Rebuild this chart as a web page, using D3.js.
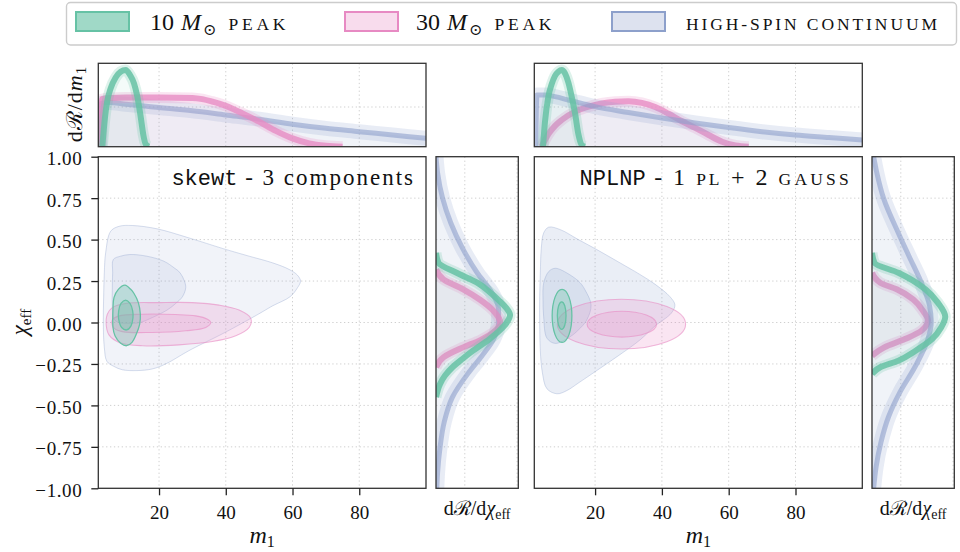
<!DOCTYPE html>
<html>
<head>
<meta charset="utf-8">
<script src="https://cdn.jsdelivr.net/npm/d3@7/dist/d3.min.js"></script>
<style>
html,body{margin:0;padding:0;background:#fff;}
svg{display:block;}
</style>
</head>
<body>
<svg id="chart" width="960" height="552"></svg>
<script>
// ---------------- data ----------------
const legendLabels = ["10 M⊙ PEAK", "30 M⊙ PEAK", "HIGH-SPIN CONTINUUM"];
const popColors = ["#66c2a5", "#e78ac3", "#8da0cb"];
const m1Ticks = [20, 40, 60, 80];
const chiTicks = [-1, -0.75, -0.5, -0.25, 0, 0.25, 0.5, 0.75, 1];
const topGridLevels = [0.476];
const sideGridLevels = [0.35, 0.985];
const m1Domain = [1.8, 100];
const chiDomain = [-1, 1];

// skewt model: 2D contours [m1, chi_eff]
const skewtBlueOuter = [[4.0,0.42],[5.5,0.55],[8,0.58],[12,0.585],[19.4,0.565],[29,0.51],[39.3,0.445],[47,0.40],[54,0.36],[59,0.32],[61.5,0.285],[62.4,0.25],[61.5,0.21],[59.3,0.156],[54,0.10],[49.3,0.045],[39.3,-0.065],[29.3,-0.166],[22,-0.25],[18,-0.28],[13.4,-0.29],[9,-0.285],[6.5,-0.265],[4.4,-0.235],[3.6,-0.15],[3.3,0.0],[3.4,0.15],[3.6,0.30]];
const skewtBlueInner = [[6.3,0.38],[8.5,0.40],[11.3,0.41],[16.3,0.40],[21.4,0.37],[24.5,0.33],[26.3,0.30],[27.6,0.25],[28,0.21],[27,0.155],[25,0.115],[22.4,0.075],[18,0.03],[14.3,0.0],[11,-0.005],[8,0.0],[6.5,0.02],[6.0,0.1],[6.0,0.2],[6.1,0.3]];
const skewtPinkOuter = [[4.5,0.05],[6,0.09],[10,0.115],[20,0.12],[30,0.12],[38,0.105],[44,0.075],[47.5,0.025],[47,-0.03],[43,-0.08],[36,-0.115],[26,-0.135],[15,-0.14],[8,-0.12],[5,-0.075],[4.2,-0.02]];
const skewtPinkInner = [[6,0.015],[8,0.04],[15,0.05],[25,0.048],[31,0.04],[34.5,0.02],[35.5,0.0],[34,-0.03],[28,-0.05],[18,-0.06],[9,-0.055],[6.3,-0.03]];
const skewtGreenOuter = [[9.8,0.225],[11.5,0.20],[12.5,0.175],[13.8,0.12],[14.4,0.05],[14.2,-0.01],[13.2,-0.07],[11.9,-0.12],[10.3,-0.14],[8.5,-0.125],[6.8,-0.08],[6.2,-0.03],[6.2,0.08],[6.5,0.15],[7.8,0.2]];
const skewtGreenInner = [[10,0.135],[11.3,0.115],[12.1,0.07],[12.2,0.03],[11.6,-0.02],[10.3,-0.045],[8.8,-0.03],[7.9,0.02],[7.9,0.07],[8.6,0.115]];

// NPLNP model: 2D contours
const nplnpBlueOuter = [[4.6,0.54],[6.1,0.575],[9.6,0.56],[15,0.5],[20.5,0.44],[27,0.365],[33.4,0.29],[38,0.23],[42.4,0.156],[43.9,0.106],[42.8,0.056],[38,-0.02],[33.4,-0.106],[27,-0.2],[20.5,-0.29],[15,-0.365],[11.6,-0.41],[8.6,-0.43],[5.6,-0.40],[4.2,-0.3],[3.6,-0.17],[3.4,0.0],[3.4,0.14],[3.6,0.30],[3.9,0.45]];
const nplnpBlueInner = [[4.6,0.237],[6.1,0.307],[8.1,0.327],[12.5,0.287],[15.5,0.24],[17,0.196],[18.8,0.106],[17.5,0.015],[15,-0.045],[12.5,-0.086],[8.1,-0.126],[5.6,-0.095],[4.6,0.035],[4.4,0.14]];
// ellipses: [centre m1, centre chi, half-width m1, half-height chi]
const nplnpPinkOuter = [27.9, -0.01, 19.2, 0.15];
const nplnpPinkInner = [28.0, -0.01, 10.4, 0.078];
const nplnpGreenOuter = [10.1, 0.04, 2.95, 0.16];
const nplnpGreenInner = [10.0, 0.042, 1.3, 0.083];

// top marginals dR/dm1 (normalised) [m1, density]
const skewtTopGreen = [[3,0],[3.8,0.35],[4.5,0.55],[5.5,0.7],[7,0.83],[8.5,0.9],[10,0.92],[11.3,0.86],[12.5,0.76],[13.5,0.6],[14.5,0.36],[15.3,0.14],[16,0.03],[17,0]];
const skewtTopPink = [[2.6,0],[2.9,0.57],[5,0.585],[10,0.59],[20,0.59],[30,0.585],[33,0.57],[36,0.54],[40,0.49],[45,0.40],[50,0.30],[55,0.19],[60,0.10],[65,0.04],[70,0.012],[75,0]];
const skewtTopBlue = [[2.2,0],[2.6,0.52],[5,0.53],[10,0.51],[15,0.49],[20,0.47],[30,0.43],[40,0.38],[50,0.33],[60,0.27],[70,0.22],[80,0.18],[90,0.14],[100,0.10]];
const nplnpTopGreen = [[4.4,0],[5,0.3],[6,0.6],[7,0.75],[8,0.85],[9,0.9],[10,0.92],[11,0.88],[12,0.77],[13,0.6],[14,0.4],[15,0.15],[16,0.02],[17,0]];
const nplnpTopPink = [[4,0],[6,0.15],[8,0.25],[10,0.32],[14,0.42],[18,0.48],[22,0.52],[26,0.54],[30,0.545],[34,0.525],[38,0.475],[42,0.395],[46,0.305],[50,0.225],[54,0.14],[58,0.06],[62,0.015],[66,0]];
const nplnpTopBlue = [[2.2,0],[2.6,0.62],[5,0.62],[8,0.6],[12,0.56],[16,0.52],[20,0.48],[30,0.41],[40,0.345],[50,0.285],[60,0.23],[70,0.18],[80,0.14],[90,0.11],[100,0.08]];

// side marginals dR/dchi_eff (normalised) [chi, density]
const skewtSideGreen = [[0.42,0],[0.36,0.03],[0.30,0.25],[0.24,0.5],[0.18,0.66],[0.135,0.76],[0.09,0.85],[0.045,0.9],[0.0,0.86],[-0.045,0.78],[-0.1,0.65],[-0.17,0.45],[-0.22,0.32],[-0.27,0.2],[-0.32,0.11],[-0.37,0.05],[-0.45,0]];
const skewtSidePink = [[0.32,0],[0.26,0.09],[0.2,0.33],[0.136,0.54],[0.07,0.7],[0.0,0.78],[-0.05,0.72],[-0.106,0.54],[-0.15,0.33],[-0.21,0.09],[-0.27,0]];
const skewtSideBlue = [[1.0,0],[0.9,0.02],[0.75,0.08],[0.6,0.18],[0.45,0.32],[0.3,0.5],[0.18,0.68],[0.08,0.76],[0.0,0.76],[-0.1,0.7],[-0.2,0.56],[-0.3,0.4],[-0.45,0.2],[-0.6,0.1],[-0.75,0.05],[-0.9,0.02],[-1.0,0.01]];
const nplnpSideGreen = [[0.42,0],[0.36,0.03],[0.3,0.32],[0.2,0.65],[0.12,0.8],[0.035,0.89],[-0.03,0.84],[-0.1,0.73],[-0.17,0.53],[-0.23,0.32],[-0.27,0.1],[-0.31,0]];
const nplnpSidePink = [[0.3,0],[0.24,0.1],[0.2,0.3],[0.14,0.5],[0.07,0.62],[0.015,0.68],[-0.05,0.6],[-0.1,0.4],[-0.15,0.15],[-0.2,0]];
const nplnpSideBlue = [[1.0,0.02],[0.9,0.06],[0.75,0.14],[0.54,0.32],[0.4,0.45],[0.24,0.6],[0.1,0.7],[0.0,0.72],[-0.1,0.68],[-0.27,0.52],[-0.42,0.34],[-0.57,0.2],[-0.72,0.11],[-0.87,0.05],[-1.0,0.02]];

// ---------------- drawing ----------------
const svg = d3.select("#chart");
const defs = svg.append("defs");
const SERIF = "'Liberation Serif','DejaVu Serif',serif";
const MONO = "'Liberation Mono','DejaVu Sans Mono',monospace";
const GRID = "#cfcfcf";
const FRAME = "#333333";

const layout = [
  {mx:[98.3, 426], sx:[436, 518.3]},
  {mx:[534.3, 862.3], sx:[872, 954.3]}
];
const mainY = [488.3, 156.7];
const topY = [146.7, 63.3];

const panelData = [
  {
    polys: [[skewtBlueOuter,2],[skewtBlueInner,2],[skewtPinkOuter,1],[skewtPinkInner,1],[skewtGreenOuter,0],[skewtGreenInner,0]],
    ellipses: [],
    blueFill: 0.12,
    top: [[skewtTopBlue,2],[skewtTopPink,1],[skewtTopGreen,0]],
    side: [[skewtSideBlue,2],[skewtSidePink,1],[skewtSideGreen,0]]
  },
  {
    polys: [[nplnpBlueOuter,2],[nplnpBlueInner,2]],
    ellipses: [[nplnpPinkOuter,1],[nplnpPinkInner,1],[nplnpGreenOuter,0],[nplnpGreenInner,0]],
    blueFill: 0.18,
    top: [[nplnpTopPink,1],[nplnpTopBlue,2],[nplnpTopGreen,0]],
    side: [[nplnpSidePink,1],[nplnpSideBlue,2],[nplnpSideGreen,0]]
  }
];

const contourFill = [0.32, 0.22, 0.12];
const contourStrokeOp = [1, 0.6, 0.35];
const contourStrokeW = [1.3, 1.1, 1];
const areaOp = [0.07, 0.07, 0.13];
const haloW = [11, 11, 15];
const haloO = [0.22, 0.22, 0.2];
const coreW = [6, 6, 5];
const coreO = [0.85, 0.78, 0.6];

function gridLine(sel) {
  return sel.attr("stroke", GRID).attr("stroke-width", 1).attr("stroke-dasharray", "1.3,2.6");
}
function frame(g, x0, x1, y0, y1) {
  g.append("rect").attr("x", x0).attr("y", y0).attr("width", x1 - x0).attr("height", y1 - y0)
    .attr("fill", "none").attr("stroke", FRAME).attr("stroke-width", 1.3);
}
function clip(id, x0, x1, y0, y1) {
  defs.append("clipPath").attr("id", id).append("rect")
    .attr("x", x0).attr("y", y0).attr("width", x1 - x0).attr("height", y1 - y0);
}

layout.forEach((L, pi) => {
  const P = panelData[pi];
  const x = d3.scaleLinear().domain(m1Domain).range(L.mx);
  const y = d3.scaleLinear().domain(chiDomain).range(mainY);
  const yt = d3.scaleLinear().domain([0, 1]).range(topY);
  const xs = d3.scaleLinear().domain([0, 1]).range(L.sx);

  clip("ct" + pi, L.mx[0], L.mx[1], topY[1], topY[0]);
  clip("cm" + pi, L.mx[0], L.mx[1], mainY[1], mainY[0]);
  clip("cs" + pi, L.sx[0], L.sx[1], mainY[1], mainY[0]);

  // ---- top marginal ----
  const gt = svg.append("g");
  gt.selectAll("line.gv").data(m1Ticks).join("line").attr("class", "gv")
    .attr("x1", d => x(d)).attr("x2", d => x(d)).attr("y1", topY[1]).attr("y2", topY[0]).call(gridLine);
  gt.selectAll("line.gh").data(topGridLevels).join("line").attr("class", "gh")
    .attr("x1", L.mx[0]).attr("x2", L.mx[1]).attr("y1", d => yt(d)).attr("y2", d => yt(d)).call(gridLine);
  const gtc = gt.append("g").attr("clip-path", `url(#ct${pi})`);
  P.top.forEach(([data, k]) => {
    const c = popColors[k];
    const area = d3.area().x(d => x(d[0])).y0(yt(0)).y1(d => yt(d[1])).curve(d3.curveMonotoneX);
    const line = d3.line().x(d => x(d[0])).y(d => yt(d[1])).curve(d3.curveMonotoneX);
    gtc.append("path").attr("d", area(data)).attr("fill", c).attr("fill-opacity", areaOp[k]);
    gtc.append("path").attr("d", line(data)).attr("fill", "none").attr("stroke", c)
      .attr("stroke-width", haloW[k]).attr("stroke-opacity", haloO[k]).attr("stroke-linejoin", "round");
    gtc.append("path").attr("d", line(data)).attr("fill", "none").attr("stroke", c)
      .attr("stroke-width", coreW[k]).attr("stroke-opacity", coreO[k]).attr("stroke-linejoin", "round");
  });
  frame(gt, L.mx[0], L.mx[1], topY[1], topY[0]);

  // ---- main panel ----
  const gm = svg.append("g");
  gm.selectAll("line.gv").data(m1Ticks).join("line").attr("class", "gv")
    .attr("x1", d => x(d)).attr("x2", d => x(d)).attr("y1", mainY[1]).attr("y2", mainY[0]).call(gridLine);
  gm.selectAll("line.gh").data(chiTicks.slice(1, -1)).join("line").attr("class", "gh")
    .attr("x1", L.mx[0]).attr("x2", L.mx[1]).attr("y1", d => y(d)).attr("y2", d => y(d)).call(gridLine);
  const gmc = gm.append("g").attr("clip-path", `url(#cm${pi})`);
  const closed = d3.line().x(d => x(d[0])).y(d => y(d[1])).curve(d3.curveCatmullRomClosed.alpha(0.5));
  P.polys.forEach(([pts, k]) => {
    gmc.append("path").attr("d", closed(pts))
      .attr("fill", popColors[k]).attr("fill-opacity", k === 2 ? P.blueFill : contourFill[k])
      .attr("stroke", popColors[k]).attr("stroke-opacity", contourStrokeOp[k]).attr("stroke-width", contourStrokeW[k]);
  });
  P.ellipses.forEach(([e, k]) => {
    gmc.append("ellipse")
      .attr("cx", x(e[0])).attr("cy", y(e[1]))
      .attr("rx", x(e[0] + e[2]) - x(e[0])).attr("ry", y(e[1]) - y(e[1] + e[3]))
      .attr("fill", popColors[k]).attr("fill-opacity", contourFill[k])
      .attr("stroke", popColors[k]).attr("stroke-opacity", contourStrokeOp[k]).attr("stroke-width", contourStrokeW[k]);
  });
  frame(gm, L.mx[0], L.mx[1], mainY[1], mainY[0]);

  // bottom axis
  const ax = gm.append("g").attr("transform", `translate(0,${mainY[0]})`)
    .call(d3.axisBottom(x).tickValues(m1Ticks).tickSize(7).tickPadding(10).tickFormat(d3.format("d")));
  ax.select(".domain").remove();
  ax.selectAll("line").attr("stroke", "#222").attr("stroke-width", 1.3);
  ax.selectAll("text").attr("font-family", SERIF).attr("font-size", 19).attr("fill", "#111");

  if (pi === 0) {
    const ay = gm.append("g").attr("transform", `translate(${L.mx[0]},0)`)
      .call(d3.axisLeft(y).tickValues(chiTicks).tickSize(7).tickPadding(9).tickFormat(d3.format(".2f")));
    ay.select(".domain").remove();
    ay.selectAll("line").attr("stroke", "#222").attr("stroke-width", 1.3);
    ay.selectAll("text").attr("font-family", SERIF).attr("font-size", 19).attr("fill", "#111")
      .attr("dy", "0.42em").attr("letter-spacing", 0.6);
  }

  // m1 label
  const ml = gm.append("text").attr("x", (L.mx[0] + L.mx[1]) / 2).attr("y", 543)
    .attr("text-anchor", "middle").attr("font-family", SERIF).attr("font-size", 24).attr("fill", "#111");
  ml.append("tspan").attr("font-style", "italic").text("m");
  ml.append("tspan").attr("font-size", 16).attr("dy", 4).text("1");

  // ---- side marginal ----
  const gs = svg.append("g");
  gs.selectAll("line.gh").data(chiTicks.slice(1, -1)).join("line").attr("class", "gh")
    .attr("x1", L.sx[0]).attr("x2", L.sx[1]).attr("y1", d => y(d)).attr("y2", d => y(d)).call(gridLine);
  gs.selectAll("line.gv").data(sideGridLevels).join("line").attr("class", "gv")
    .attr("x1", d => xs(d)).attr("x2", d => xs(d)).attr("y1", mainY[1]).attr("y2", mainY[0]).call(gridLine);
  const gsc = gs.append("g").attr("clip-path", `url(#cs${pi})`);
  P.side.forEach(([data, k]) => {
    const c = popColors[k];
    const area = d3.area().y(d => y(d[0])).x0(xs(0)).x1(d => xs(d[1])).curve(d3.curveMonotoneY);
    const line = d3.line().y(d => y(d[0])).x(d => xs(d[1])).curve(d3.curveMonotoneY);
    gsc.append("path").attr("d", area(data)).attr("fill", c).attr("fill-opacity", areaOp[k]);
    gsc.append("path").attr("d", line(data)).attr("fill", "none").attr("stroke", c)
      .attr("stroke-width", haloW[k]).attr("stroke-opacity", haloO[k]).attr("stroke-linejoin", "round");
    gsc.append("path").attr("d", line(data)).attr("fill", "none").attr("stroke", c)
      .attr("stroke-width", coreW[k]).attr("stroke-opacity", coreO[k]).attr("stroke-linejoin", "round");
  });
  frame(gs, L.sx[0], L.sx[1], mainY[1], mainY[0]);

  const sl = gs.append("text").attr("x", (L.sx[0] + L.sx[1]) / 2).attr("y", 515)
    .attr("text-anchor", "middle").attr("font-family", SERIF).attr("font-size", 20).attr("fill", "#111");
  sl.append("tspan").text("dℛ/d");
  sl.append("tspan").attr("font-style", "italic").text("χ");
  sl.append("tspan").attr("font-size", 14).attr("dy", 4).text("eff");
});

// ---- titles ----
const t0 = svg.append("text").attr("x", 415).attr("y", 185).attr("text-anchor", "end")
  .attr("font-family", SERIF).attr("font-size", 23).attr("fill", "#111");
t0.append("tspan").attr("font-family", MONO).attr("font-size", 22).text("skewt");
t0.append("tspan").attr("letter-spacing", 2).text(" - 3 components");

const t1 = svg.append("text").attr("x", 852).attr("y", 185).attr("text-anchor", "end")
  .attr("font-family", SERIF).attr("font-size", 24).attr("fill", "#111");
t1.append("tspan").attr("font-family", MONO).attr("font-size", 22).text("NPLNP");
t1.append("tspan").attr("letter-spacing", 2.5).text(" - 1 ");
t1.append("tspan").attr("font-size", 17.5).attr("letter-spacing", 3).text("PL");
t1.append("tspan").attr("letter-spacing", 2.5).text(" + 2 ");
t1.append("tspan").attr("font-size", 17.5).attr("letter-spacing", 3.2).text("GAUSS");

// ---- axis labels ----
const yl = svg.append("text").attr("transform", "translate(27,322) rotate(-90)")
  .attr("text-anchor", "middle").attr("font-family", SERIF).attr("font-size", 23).attr("fill", "#111");
yl.append("tspan").attr("font-style", "italic").text("χ");
yl.append("tspan").attr("font-size", 15).attr("dy", 4).text("eff");

const tl = svg.append("text").attr("transform", "translate(82,104) rotate(-90)")
  .attr("text-anchor", "middle").attr("font-family", SERIF).attr("font-size", 22).attr("fill", "#111")
  .attr("letter-spacing", 1);
tl.append("tspan").text("dℛ/d");
tl.append("tspan").attr("font-style", "italic").text("m");
tl.append("tspan").attr("font-size", 15).attr("dy", 4).text("1");

// ---- legend ----
const lg = svg.append("g");
lg.append("rect").attr("x", 66.5).attr("y", 2.5).attr("width", 890).attr("height", 42.5).attr("rx", 4)
  .attr("fill", "#fff").attr("stroke", "#cccccc").attr("stroke-width", 1.4);
const swatchX = [76, 345, 612];
const textX = [150, 416, 686];
const swatchFill = [0.62, 0.3, 0.3];
legendLabels.forEach((lab, i) => {
  lg.append("rect").attr("x", swatchX[i]).attr("y", 12).attr("width", 53).attr("height", 19)
    .attr("fill", popColors[i]).attr("fill-opacity", swatchFill[i])
    .attr("stroke", popColors[i]).attr("stroke-width", 2);
  const t = lg.append("text").attr("x", textX[i]).attr("y", 30)
    .attr("font-family", SERIF).attr("font-size", 24).attr("fill", "#111");
  const parts = lab.split(" ");
  if (parts[1] === "M⊙") {
    t.append("tspan").text(parts[0]);
    t.append("tspan").attr("dx", 7).attr("font-style", "italic").text("M");
    t.append("tspan").attr("font-size", 16).attr("dx", 2).attr("dy", 5).text("⊙");
    t.append("tspan").attr("dy", -5).attr("dx", 12).attr("font-size", 17.5).attr("letter-spacing", 3.8).text(parts[2]);
  } else {
    t.append("tspan").attr("font-size", 17.5).attr("letter-spacing", 2.9).text(lab);
  }
});
</script>
</body>
</html>
